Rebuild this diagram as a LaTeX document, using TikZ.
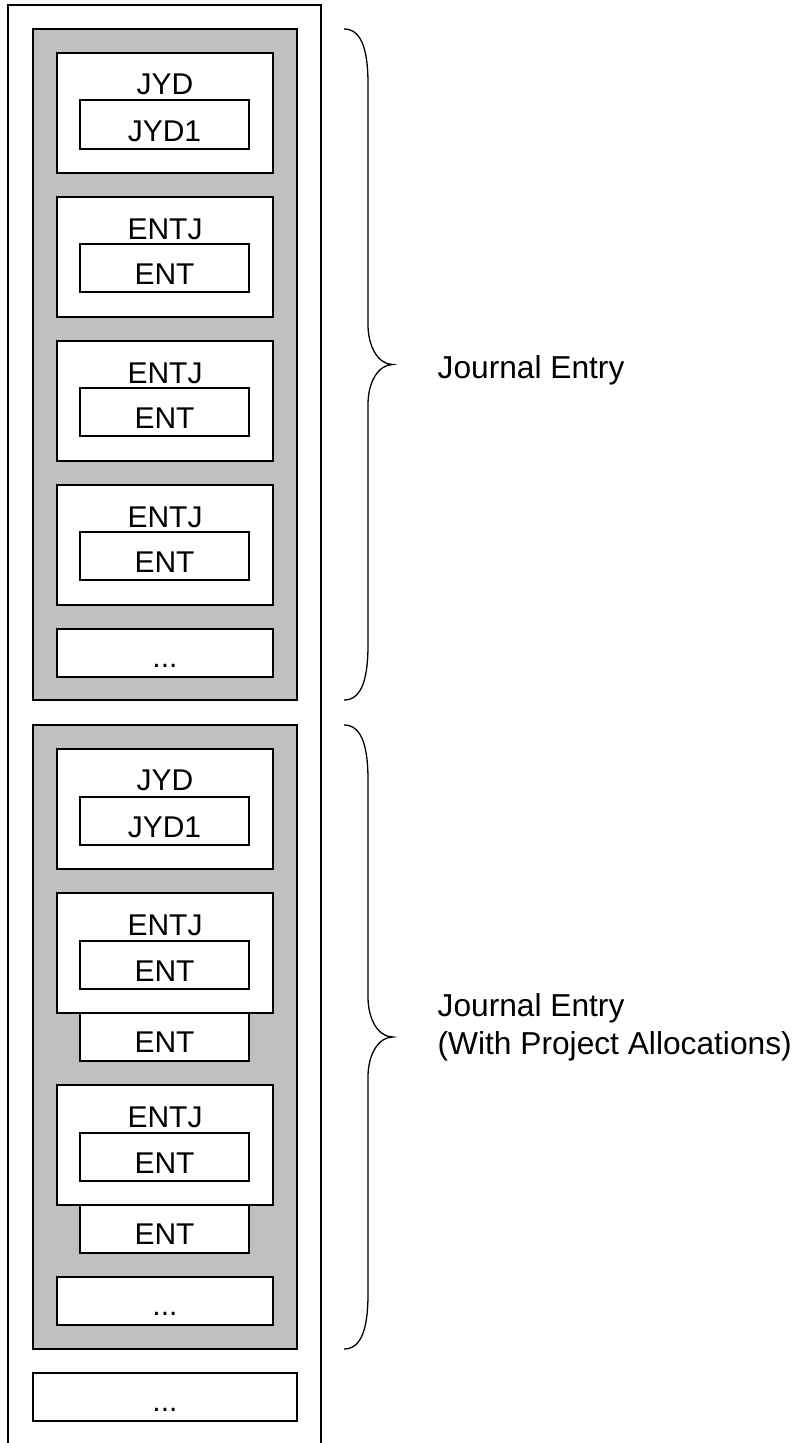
\documentclass[tikz,border=0pt]{standalone}
\usepackage{fontspec}
\setmainfont{Liberation Sans}
\definecolor{groupgray}{HTML}{C0C0C0}
\begin{document}
\begin{tikzpicture}[x=1pt,y=-1pt,line width=1.3pt,
  grp/.style={draw=black,fill=groupgray},
  wbox/.style={draw=black,fill=white},
  lbl/.style={font=\fontsize{30}{36}\selectfont,anchor=base,inner sep=0pt},
  side/.style={font=\fontsize{31.7}{37.5}\selectfont,anchor=base west,inner sep=0pt,align=left},
  bracepath/.style={draw=black,line width=1.3pt}]
\useasboundingbox (0,0) rectangle (800,1443);
% outer container (open at bottom)
\draw (8,1444) -- (8,5) -- (321,5) -- (321,1444);
% groups
\draw[grp] (33,29) rectangle (297,700);
\draw[grp] (33,725) rectangle (297,1349);
% ---- group 1 ----
\draw[wbox] (57,53) rectangle (273,173);
\node[lbl] (jydA) at (165,94.5) {JYD};
\draw[wbox] (80,100) rectangle (249,149);
\node[lbl] (jydoneA) at (164.5,141) {JYD1};
\foreach \t in {197,341,485}{
  \draw[wbox] (57,\t) rectangle (273,{\t+120});
  \node[lbl] (entjA\t) at (165,{\t+42}) {ENTJ};
  \draw[wbox] (80,{\t+47}) rectangle (249,{\t+95});
  \node[lbl] (entA\t) at (164.5,{\t+87}) {ENT};
}
\draw[wbox] (57,629) rectangle (273,677);
\node[lbl] (dotsA) at (165,667) {...};
% ---- group 2 ----
\draw[wbox] (57,749) rectangle (273,869);
\node[lbl] (jydB) at (165,790.5) {JYD};
\draw[wbox] (80,797) rectangle (249,845);
\node[lbl] (jydoneB) at (164.5,837) {JYD1};
\foreach \t in {893,1085}{
  \draw[wbox] (57,\t) rectangle (273,{\t+120});
  \node[lbl] (entjB\t) at (165,{\t+42}) {ENTJ};
  \draw[wbox] (80,{\t+48}) rectangle (249,{\t+96});
  \node[lbl] (entB\t) at (164.5,{\t+88}) {ENT};
  \draw[wbox] (80,{\t+120}) rectangle (249,{\t+168});
  \node[lbl] (entallocB\t) at (164.5,{\t+159}) {ENT};
}
\draw[wbox] (57,1277) rectangle (273,1325);
\node[lbl] (dotsB) at (165,1315) {...};
% ---- bottom box ----
\draw[wbox] (33,1373) rectangle (297,1421);
\node[lbl] (dotsC) at (165,1411) {...};
% ---- braces ----
\foreach \a/\b in {29/700,725/1349}{
  \pgfmathsetmacro\m{(\a+\b)/2}
  \draw[bracepath] (344,\a) .. controls (362,\a) and (368,{\a+22}) .. (368,{\a+55})
    -- (368,{\m-40}) .. controls (368,{\m-18}) and (378,\m) .. (393,\m)
    .. controls (378,\m) and (368,{\m+18}) .. (368,{\m+40})
    -- (368,{\b-55}) .. controls (368,{\b-22}) and (362,\b) .. (344,\b);
}
\node[side] (labelA) at (437,378) {Journal Entry};
\node[side] (labelB) at (437,1054) {Journal Entry\\(With Project Allocations)};
\end{tikzpicture}
\end{document}
